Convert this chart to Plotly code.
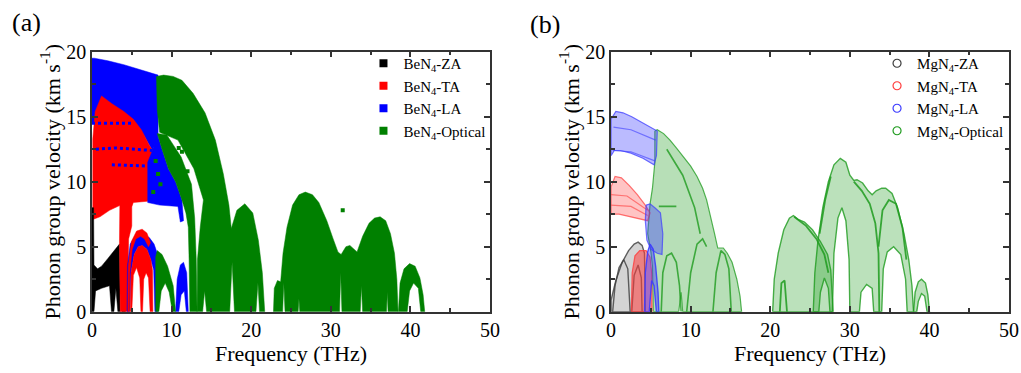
import plotly.graph_objects as go

# ---------------- axes ----------------
X_RANGE = [0, 50]
Y_RANGE = [0, 20]
X_TICKS = [0, 10, 20, 30, 40, 50]
Y_TICKS = [0, 5, 10, 15, 20]
X_TITLE = "Frequency (THz)"
Y_TITLE = "Phonon group velocity (km s<sup>-1</sup>)"

# ---------------- panel (a): BeN4 (outlines: (THz, km/s)) ----------------
BE_LA_UPPER = [(0, 14.5), (0, 19.5), (0.3, 19.5), (2, 19.3), (4, 19.0), (6, 18.6), (7.5, 18.3), (8.3, 18.2),
               (8.3, 13.5), (7.6, 12.4), (6.5, 13.6), (5.0, 14.4), (3.0, 14.5)]
BE_TA_UPPER = [(0.1, 7.1), (0.1, 13.3), (0.4, 15.4), (1.2, 16.6), (2.5, 16.0), (4.0, 15.4), (5.2, 14.8),
               (6.2, 14.0), (7.2, 12.8), (7.8, 12.2), (7.8, 10.5), (7.3, 9.8), (7.0, 8.5), (5.2, 8.4),
               (5.0, 8.1), (3.6, 8.2), (2.2, 7.8), (1.0, 7.3)]
BE_LA_ROWS = [[(0, 14.5), (5.0, 14.5)],
              [(0.5, 12.5), (3.0, 12.6), (7.6, 12.4)],
              [(2.5, 11.3), (7.4, 11.2)]]
BE_LA_MIDDLE = [(7.0, 8.4), (7.0, 11.5), (7.6, 12.4), (8.2, 13.7), (8.8, 12.5), (9.6, 11.0), (10.5, 10.0),
                (11.3, 8.6), (11.5, 7.0), (11.1, 6.9), (10.8, 8.1), (8.5, 8.2)]
BE_ZA_MAIN = [(0, 0), (0, 8.0), (0.2, 8.0), (0.25, 3.6), (0.7, 3.3), (1.2, 3.5), (2.0, 4.1), (2.8, 4.7),
              (3.45, 5.2), (3.55, 0), (3.25, 0), (3.0, 1.8), (2.75, 0), (2.45, 0), (2.2, 2.0), (1.2, 1.8),
              (0.45, 1.6), (0.25, 0)]
BE_ZA_SMALL = [(3.75, 0), (3.85, 2.8), (4.1, 2.9), (4.2, 0)]
BE_TA_COLUMN = [(3.45, 5.2), (3.5, 8.3), (5.0, 8.3), (5.0, 6.6), (4.6, 5.6), (4.45, 0), (3.55, 0)]
BE_LA_DOME = [(4.4, 0), (4.45, 3.5), (4.8, 5.2), (5.5, 5.9), (6.3, 6.0), (7.2, 5.7), (7.8, 5.2), (8.2, 4.5),
              (8.25, 0), (7.9, 0), (7.75, 3.2), (7.4, 4.0), (6.9, 4.8), (6.3, 5.1), (5.8, 5.0), (5.3, 4.4),
              (4.9, 3.0), (4.75, 0)]
BE_TA_ARCH = [(4.5, 0), (4.55, 3.5), (4.95, 5.4), (5.6, 6.2), (6.3, 6.35), (6.9, 6.05), (7.35, 5.3),
              (7.1, 5.0), (6.6, 5.6), (6.1, 5.8), (5.5, 5.6), (5.05, 4.8), (4.75, 3.0), (4.7, 0)]
BE_TA_INNER = [(4.8, 0), (4.9, 3.0), (5.3, 4.4), (5.8, 5.0), (6.3, 5.1), (6.9, 4.8), (7.4, 4.0), (7.6, 3.2),
               (7.65, 0), (7.3, 0), (7.1, 2.6), (6.8, 3.0), (6.5, 2.5), (6.35, 0), (6.15, 0), (6.0, 2.6),
               (5.6, 3.4), (5.2, 2.8), (5.0, 0)]
BE_LA_LOW = [(10.5, 0), (10.7, 2.5), (11.1, 3.6), (11.5, 3.8), (11.9, 3.0), (12.1, 0), (11.85, 0),
             (11.6, 1.6), (11.2, 1.3), (10.9, 0)]
BE_OPT_MAIN = [(8.1, 18.1), (9.0, 18.2), (10.2, 18.1), (11.3, 17.8), (12.7, 16.8), (14.2, 15.3), (15.5, 13.2),
               (16.5, 10.6), (17.2, 8.2), (17.5, 6.4), (18.2, 7.8), (19.2, 8.3), (20.2, 7.6), (20.9, 5.5),
               (21.4, 3.0), (21.7, 0), (21.05, 0), (20.85, 2.2), (20.6, 0), (17.9, 0), (17.6, 3.8),
               (17.3, 0), (14.4, 0), (14.15, 1.6), (13.9, 0), (13.2, 0), (13.25, 4.0), (13.6, 6.5),
               (14.0, 8.6), (12.8, 11.0), (10.8, 13.2), (9.6, 13.5), (8.5, 13.8), (8.2, 15.5)]
BE_OPT_ARCH2 = [(8.2, 13.7), (9.4, 13.6), (11.2, 11.9), (12.5, 9.8), (12.9, 7.2), (13.1, 4.0), (13.2, 0),
                (12.3, 0), (12.2, 4.0), (12.1, 6.5), (11.8, 7.6), (11.3, 8.6), (10.5, 10.0), (9.6, 11.0),
                (8.8, 12.5)]
BE_OPT_QUARTER = [(8.0, 0), (8.0, 4.2), (8.2, 4.7), (8.8, 4.4), (9.5, 3.5), (10.2, 2.0), (10.5, 0),
                  (10.1, 0), (9.7, 1.5), (9.2, 2.2), (8.7, 1.6), (8.4, 0)]
BE_OPT_HIGH = [(22.8, 0), (22.9, 1.8), (23.3, 2.4), (23.7, 2.3), (24.0, 4.5), (24.5, 6.5), (25.2, 8.2),
               (26.0, 9.0), (26.8, 9.2), (27.7, 9.0), (28.5, 8.4), (29.5, 7.0), (30.3, 5.6), (30.9, 4.6),
               (31.3, 4.4), (31.9, 5.0), (32.4, 5.1), (32.9, 4.8), (33.3, 4.6), (34.0, 5.8), (34.8, 6.8),
               (35.5, 7.2), (36.2, 7.3), (36.9, 7.0), (37.5, 6.0), (38.0, 4.5), (38.3, 2.5), (38.45, 0),
               (37.2, 0), (37.1, 1.5), (37.0, 0), (34.0, 0), (33.85, 2.0), (33.7, 0), (31.4, 0),
               (31.25, 3.0), (31.1, 0), (26.1, 0), (26.0, 1.0), (25.9, 0), (24.25, 0), (24.1, 2.2),
               (23.95, 0)]
BE_OPT_40 = [(38.5, 0), (38.7, 2.2), (39.2, 3.3), (39.9, 3.7), (40.6, 3.5), (41.2, 2.6), (41.6, 1.3),
             (41.8, 0), (41.3, 0), (41.0, 1.8), (40.4, 2.2), (39.9, 1.6), (39.6, 0)]
BE_OPT_DOTS = [(31.5, 7.8), (8.3, 10.6), (8.6, 9.8), (8.0, 11.6), (7.7, 9.2), (12.0, 10.8), (11.3, 12.3),
               (10.9, 12.6)]

# ---------------- panel (b): MgN4 ----------------
MG_ZA = [(0, 0), (0, 0.9), (0.6, 2.4), (1.4, 3.8), (2.2, 4.7), (2.9, 5.2), (3.4, 5.35), (3.9, 5.1),
         (4.2, 4.5), (4.3, 0)]
MG_ZA_ARCS = [[(0.2, 0), (0.5, 2.0), (1.0, 3.4), (1.6, 4.0), (2.1, 3.3), (2.4, 0)],
              [(2.6, 0), (2.9, 2.8), (3.4, 3.6), (3.8, 2.6), (3.9, 0)]]
MG_TA_FAN = [(0, 7.5), (0, 9.6), (0.5, 10.4), (1.3, 10.3), (2.3, 9.7), (3.3, 9.0), (4.3, 8.2), (4.9, 7.6),
             (4.6, 7.0), (3.3, 7.2), (2.0, 7.4), (1.0, 7.5)]
MG_TA_FAN_ARCS = [[(0, 9.0), (2.0, 8.9), (4.6, 7.8)], [(0, 8.2), (2.5, 8.1), (4.6, 7.4)]]
MG_TA_DOME = [(2.55, 0), (2.65, 3.0), (3.0, 4.3), (3.6, 4.7), (4.4, 4.7), (4.9, 4.2), (5.1, 3.0), (5.15, 0)]
MG_OPT_MAIN = [(5.5, 13.9), (5.8, 14.0), (6.6, 13.7), (7.4, 13.2), (8.2, 12.6), (9.1, 11.9), (10.0, 11.2),
               (10.8, 10.4), (11.5, 9.5), (12.0, 8.6), (12.5, 7.4), (13.0, 6.0), (13.4, 4.9), (13.8, 4.9),
               (14.1, 4.9), (14.6, 4.5), (15.2, 3.8), (15.8, 2.5), (16.2, 1.2), (16.4, 0), (9.0, 0),
               (8.8, 1.5), (8.5, 0), (5.3, 0), (5.2, 3.5), (5.0, 4.6), (4.6, 6.0), (4.9, 8.3), (5.2, 9.5),
               (5.5, 11.5)]
MG_OPT_ARCS = [[(6.0, 8.1), (8.2, 8.1)],
               [(6.3, 0), (6.5, 3.0), (7.0, 4.3), (7.6, 4.5), (8.2, 3.8), (8.6, 2.0), (8.8, 0)],
               [(12.8, 0), (13.2, 3.0), (13.8, 4.7), (14.3, 4.4), (14.8, 3.3), (15.1, 0)],
               [(9.5, 0), (10.0, 3.0), (10.8, 5.2), (11.5, 5.6), (12.0, 5.0)],
               [(7.0, 12.5), (9.0, 10.5), (10.5, 8.0), (11.2, 6.0)]]
MG_LA_UPPER = [(0, 12.0), (0, 14.8), (0.6, 15.4), (1.5, 15.3), (2.6, 15.0), (3.8, 14.6), (5.0, 14.2),
               (5.8, 13.9), (5.7, 12.0), (5.4, 11.3), (4.0, 11.8), (2.5, 12.2), (1.2, 12.4), (0.4, 12.4)]
MG_LA_ARCS = [[(0.3, 14.2), (2.5, 14.0), (5.6, 13.2)], [(0.2, 12.4), (2.5, 12.3), (5.5, 11.6)]]
MG_LA_MIDDLE = [(4.4, 8.2), (4.9, 8.3), (5.5, 8.0), (6.2, 7.6), (6.5, 6.0), (6.4, 4.4), (5.8, 4.5),
                (5.0, 4.8), (4.5, 5.5), (4.3, 7.0)]
MG_LA_LOW = [(4.2, 0), (4.3, 3.0), (4.6, 4.6), (4.9, 5.2), (5.3, 4.8), (5.6, 3.5), (5.9, 1.5), (6.0, 0),
             (5.7, 0), (5.4, 2.0), (5.1, 2.4), (4.9, 0.8), (4.8, 0)]
MG_OPT_D1 = [(20.3, 0), (20.5, 2.5), (21.0, 4.5), (21.7, 6.3), (22.4, 7.2), (22.9, 7.4), (23.5, 7.1),
             (24.3, 6.9), (25.3, 6.3), (26.3, 5.4), (27.2, 4.4), (27.6, 3.2), (27.9, 0), (27.5, 0),
             (27.3, 1.8), (26.8, 2.6), (26.3, 1.5), (26.1, 0)]
MG_OPT_D2 = [(25.4, 0), (25.6, 3.0), (26.0, 5.5), (26.6, 8.0), (27.3, 10.0), (28.0, 11.3), (28.8, 11.8),
             (29.5, 11.5), (30.0, 10.5), (30.5, 10.1), (30.9, 10.15), (31.6, 9.9), (32.3, 9.3), (32.8, 9.0),
             (33.3, 9.3), (34.0, 9.5), (34.5, 9.5), (35.3, 9.1), (36.0, 8.0), (36.8, 6.0), (37.4, 4.0),
             (37.8, 2.0), (38.0, 0), (37.2, 0), (37.0, 2.5), (36.4, 4.4), (35.5, 5.0), (34.7, 4.6),
             (34.2, 3.3), (34.0, 0), (33.0, 0), (32.8, 1.8), (32.1, 2.1), (31.4, 1.5), (31.2, 0),
             (30.0, 0), (29.9, 4.0), (29.5, 7.0), (29.0, 8.0), (28.5, 7.2), (28.0, 4.5), (27.8, 0)]
MG_OPT_D3 = [(38.0, 0), (38.2, 1.5), (38.6, 2.3), (39.0, 2.5), (39.5, 2.2), (39.8, 1.3), (40.0, 0),
             (39.7, 0), (39.4, 1.2), (39.0, 1.4), (38.6, 0.8), (38.4, 0)]
MG_OPT_ARCS2 = [[(23.0, 7.3), (24.5, 6.6), (25.8, 5.6), (26.8, 4.4), (27.3, 3.0)],
                [(21.2, 0), (21.4, 2.2), (21.8, 2.4), (22.1, 0)],
                [(30.5, 10.0), (31.5, 9.3), (32.5, 8.3), (33.2, 6.8), (33.6, 4.5), (33.7, 0)],
                [(33.6, 5.0), (34.1, 7.8), (34.9, 8.6), (35.8, 8.3), (36.6, 6.5), (37.1, 4.0)],
                [(26.2, 6.0), (26.9, 8.6), (27.6, 10.4)]]

LEG_A = ["BeN<sub>4</sub>-ZA", "BeN<sub>4</sub>-TA", "BeN<sub>4</sub>-LA", "BeN<sub>4</sub>-Optical"]
LEG_B = ["MgN<sub>4</sub>-ZA", "MgN<sub>4</sub>-TA", "MgN<sub>4</sub>-LA", "MgN<sub>4</sub>-Optical"]
COL_A = ["#000000", "#ff0000", "#0000ff", "#008000"]
COL_B = ["60,60,60", "255,60,60", "60,60,255", "30,155,30"]

FONT = "Liberation Serif"

fig = go.Figure()


def poly(pts, fill, line, lw, xa, ya):
    xs = [p[0] for p in pts] + [pts[0][0]]
    ys = [p[1] for p in pts] + [pts[0][1]]
    fig.add_trace(go.Scatter(x=xs, y=ys, mode="lines", fill="toself", fillcolor=fill,
                             line=dict(color=line, width=lw), hoverinfo="skip",
                             showlegend=False, xaxis=xa, yaxis=ya))


def curve(pts, color, lw, xa, ya, dash="solid"):
    fig.add_trace(go.Scatter(x=[p[0] for p in pts], y=[p[1] for p in pts], mode="lines",
                             line=dict(color=color, width=lw, dash=dash), hoverinfo="skip",
                             showlegend=False, xaxis=xa, yaxis=ya))


# ---- panel (a) draw order ----
K, R, B, G = COL_A
poly(BE_LA_UPPER, B, B, 0.5, "x", "y")
poly(BE_TA_UPPER, R, R, 0.5, "x", "y")
for row in BE_LA_ROWS:
    curve(row, B, 3, "x", "y", dash="dot")
poly(BE_LA_MIDDLE, B, B, 0.5, "x", "y")
poly(BE_ZA_MAIN, K, K, 0.5, "x", "y")
poly(BE_ZA_SMALL, K, K, 0.5, "x", "y")
poly(BE_TA_COLUMN, R, R, 0.5, "x", "y")
poly(BE_LA_DOME, B, B, 0.5, "x", "y")
poly(BE_TA_ARCH, R, R, 0.5, "x", "y")
poly(BE_TA_INNER, R, R, 0.5, "x", "y")
poly(BE_LA_LOW, B, B, 0.5, "x", "y")
for shp in (BE_OPT_MAIN, BE_OPT_ARCH2, BE_OPT_QUARTER, BE_OPT_HIGH, BE_OPT_40):
    poly(shp, G, G, 0.5, "x", "y")
fig.add_trace(go.Scatter(x=[p[0] for p in BE_OPT_DOTS], y=[p[1] for p in BE_OPT_DOTS], mode="markers",
                         marker=dict(symbol="square", size=4, color=G), hoverinfo="skip",
                         showlegend=False, xaxis="x", yaxis="y"))

# ---- panel (b) draw order ----
kb, rb, bb, gb = COL_B


def fc(c, a):
    return f"rgba({c},{a})"


poly(MG_OPT_MAIN, fc(gb, 0.32), fc(gb, 0.75), 1.2, "x2", "y2")
for a in MG_OPT_ARCS:
    curve(a, fc(gb, 0.8), 1.6, "x2", "y2")
poly(MG_LA_UPPER, fc(bb, 0.35), fc(bb, 0.75), 1.2, "x2", "y2")
for a in MG_LA_ARCS:
    curve(a, fc(bb, 0.6), 1.2, "x2", "y2")
poly(MG_TA_FAN, fc(rb, 0.3), fc(rb, 0.7), 1.2, "x2", "y2")
for a in MG_TA_FAN_ARCS:
    curve(a, fc(rb, 0.6), 1.2, "x2", "y2")
poly(MG_LA_MIDDLE, fc(bb, 0.4), fc(bb, 0.7), 1.2, "x2", "y2")
poly(MG_ZA, fc(kb, 0.22), fc(kb, 0.8), 1.4, "x2", "y2")
for a in MG_ZA_ARCS:
    curve(a, fc(kb, 0.8), 1.4, "x2", "y2")
poly(MG_TA_DOME, fc(rb, 0.55), fc(rb, 0.8), 1.2, "x2", "y2")
poly(MG_LA_LOW, fc(bb, 0.45), fc(bb, 0.9), 1.4, "x2", "y2")
for shp in (MG_OPT_D1, MG_OPT_D2, MG_OPT_D3):
    poly(shp, fc(gb, 0.3), fc(gb, 0.8), 1.4, "x2", "y2")
for a in MG_OPT_ARCS2:
    curve(a, fc(gb, 0.85), 1.8, "x2", "y2")

# ---- legends ----
for name, col in zip(LEG_A, COL_A):
    fig.add_trace(go.Scatter(x=[None], y=[None], mode="markers", name=name, legend="legend",
                             marker=dict(symbol="square", size=8, color=col), xaxis="x", yaxis="y"))
for name, col in zip(LEG_B, COL_B):
    fig.add_trace(go.Scatter(x=[None], y=[None], mode="markers", name=name, legend="legend2",
                             marker=dict(symbol="circle-open", size=8, color=f"rgb({col})",
                                         line=dict(width=1.2)), xaxis="x2", yaxis="y2"))

axis_common = dict(showline=True, linecolor="#333333", linewidth=1.5, mirror="ticks", ticks="inside",
                   ticklen=6, tickwidth=1.5, tickcolor="#333333", showgrid=False, zeroline=False,
                   tickfont=dict(family=FONT, size=20, color="black"), automargin=False)

xcommon = dict(axis_common, range=X_RANGE, tickvals=X_TICKS,
               minor=dict(dtick=5, ticks="inside", ticklen=4, tickwidth=1.5, tickcolor="#333333"),
               title=dict(text=X_TITLE, font=dict(family=FONT, size=22, color="black"), standoff=4))
ycommon = dict(axis_common, range=Y_RANGE, tickvals=Y_TICKS,
               minor=dict(dtick=2.5, ticks="inside", ticklen=4, tickwidth=1.5, tickcolor="#333333"),
               title=dict(text=Y_TITLE, font=dict(family=FONT, size=22, color="black"), standoff=0))

leg_common = dict(bgcolor="rgba(0,0,0,0)", font=dict(family=FONT, size=15, color="black"),
                  xanchor="left", yanchor="top", tracegroupgap=0)

fig.update_layout(
    width=1021, height=373, margin=dict(l=0, r=0, t=0, b=0),
    paper_bgcolor="white", plot_bgcolor="white",
    xaxis=dict(xcommon, domain=[0.0901, 0.4799], anchor="y"),
    yaxis=dict(ycommon, domain=[0.1643, 0.8614], anchor="x"),
    xaxis2=dict(xcommon, domain=[0.5985, 0.9883], anchor="y2"),
    yaxis2=dict(ycommon, domain=[0.1643, 0.8614], anchor="x2"),
    legend=dict(leg_common, x=0.356, y=0.874),
    legend2=dict(leg_common, x=0.859, y=0.874),
    annotations=[
        dict(text="(a)", x=10 / 1021, y=1 - 6 / 373, xref="paper", yref="paper", showarrow=False,
             xanchor="left", yanchor="top", font=dict(family=FONT, size=26, color="black")),
        dict(text="(b)", x=528 / 1021, y=1 - 8 / 373, xref="paper", yref="paper", showarrow=False,
             xanchor="left", yanchor="top", font=dict(family=FONT, size=26, color="black")),
    ],
)

fig.write_html("out.html")
